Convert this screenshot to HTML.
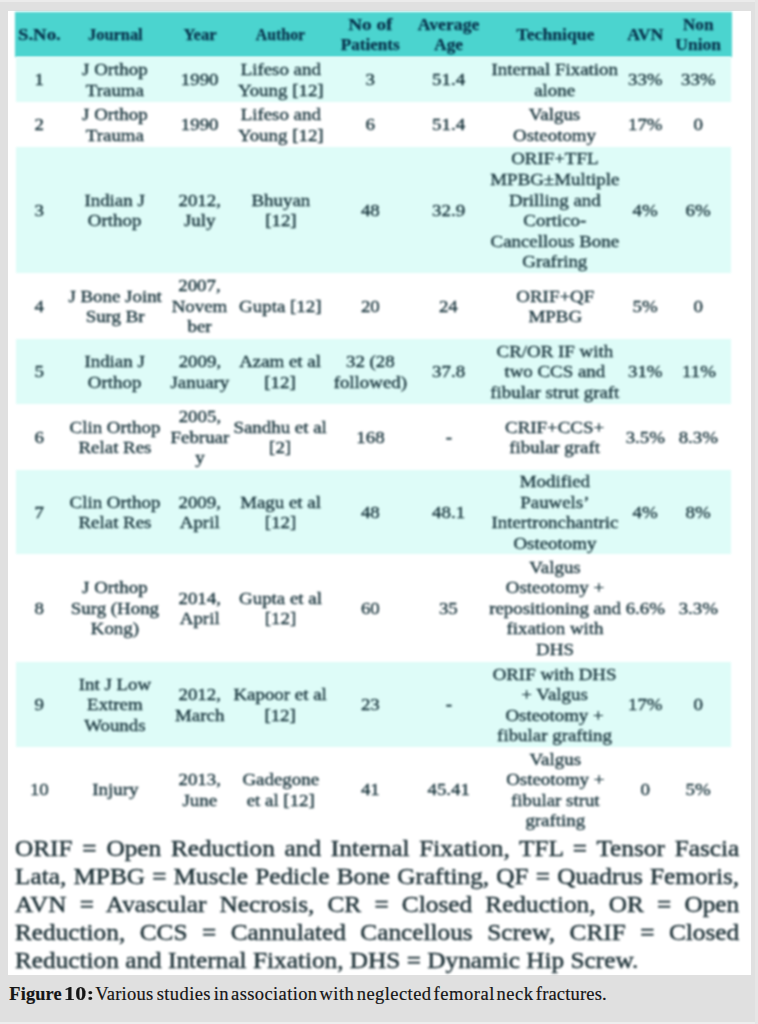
<!DOCTYPE html>
<html><head><meta charset="utf-8"><title>Figure 10</title>
<style>
html,body{margin:0;padding:0}
body{width:758px;height:1024px;overflow:hidden;background:#e0e0e0;position:relative;font-family:"Liberation Serif","Times New Roman",serif}
#edge-t{position:absolute;left:0;top:0;width:758px;height:2px;background:#ebebeb}
#edge-b{position:absolute;left:0;top:1022px;width:758px;height:2px;background:#eeeeee}
#edge-r{position:absolute;left:755px;top:0;width:3px;height:1024px;background:#e6e6e6}
#sheet{position:absolute;left:8px;top:11px;width:742.5px;height:964px;background:#fff}
#tbl{position:absolute;left:0;top:0;width:758px;height:980px}
.band{filter:blur(0.9px)}
.c{filter:blur(0.8px)}
.c.h{filter:blur(1.0px)}
#note{filter:blur(0.8px)}
.band{position:absolute;left:15.2px;width:716.4px}
.hd{background:#4bd4cf}
.lt{background:#defcf8;left:16.2px;width:714.5px}
.c{-webkit-text-stroke:0.35px #17333b;position:absolute;width:200px;display:flex;align-items:center;justify-content:center;text-align:center;white-space:nowrap;color:#17333b;font-size:16.65px;line-height:20.6px}
.c span{display:inline-block;transform:scaleX(1.135)}
.h span.hl{display:block}
.h{-webkit-text-stroke:0.25px #06304a;color:#06304a;font-weight:bold;font-size:17.0px;line-height:19.7px}
#note{position:absolute;left:15.1px;top:833.7px;width:667.47px;transform-origin:0 0;transform:scaleX(1.085);font-size:23.3px;line-height:28.0px;color:#1b2f35;-webkit-text-stroke:0.45px #1b2f35;text-align:justify;margin:0}
#cap{position:absolute;left:0;top:980.70px;width:758px;height:26px;margin:0;color:#151515;-webkit-text-stroke:0.2px #151515}
#cap span,#cap b{position:absolute;top:0;line-height:26px;white-space:nowrap}
#cap span{font-size:18.5px;top:0px}
#cap b{font-size:18.3px;transform-origin:0 50%;top:0px}
</style></head><body>
<div id="edge-t"></div><div id="edge-b"></div><div id="edge-r"></div>
<div id="sheet"></div>
<div id="tbl">
<div class="band hd" style="top:11.6px;height:45.6px"></div>
<div class="band lt" style="top:57px;height:45px"></div>
<div class="band lt" style="top:147px;height:126px"></div>
<div class="band lt" style="top:339px;height:65px"></div>
<div class="band lt" style="top:470px;height:84px"></div>
<div class="band lt" style="top:662px;height:85px"></div>
<div class="c h" style="left:-60.5px;top:12.4px;height:45px"><div><span class="hl" style="transform:scaleX(1.106)">S.No.</span></div></div>
<div class="c h" style="left:15px;top:12.4px;height:45px"><div><span class="hl" style="transform:scaleX(0.962)">Journal</span></div></div>
<div class="c h" style="left:99.5px;top:12.4px;height:45px"><div><span class="hl" style="transform:scaleX(0.971)">Year</span></div></div>
<div class="c h" style="left:180.5px;top:12.4px;height:45px"><div><span class="hl" style="transform:scaleX(0.933)">Author</span></div></div>
<div class="c h" style="left:270px;top:12.4px;height:45px"><div><span class="hl" style="transform:scaleX(1.128)">No of</span><span class="hl" style="transform:scaleX(1.006)">Patients</span></div></div>
<div class="c h" style="left:348.5px;top:12.4px;height:45px"><div><span class="hl" style="transform:scaleX(1.039)">Average</span><span class="hl" style="transform:scaleX(1.006)">Age</span></div></div>
<div class="c h" style="left:455px;top:12.4px;height:45px"><div><span class="hl" style="transform:scaleX(1.037)">Technique</span></div></div>
<div class="c h" style="left:545px;top:12.4px;height:45px"><div><span class="hl" style="transform:scaleX(1.044)">AVN</span></div></div>
<div class="c h" style="left:598.5px;top:12.4px;height:45px"><div><span class="hl" style="transform:scaleX(1.006)">Non</span><span class="hl" style="transform:scaleX(1.029)">Union</span></div></div>
<div class="c" style="left:-60.5px;top:58.2px;height:45px"><span>1</span></div>
<div class="c" style="left:15px;top:58.2px;height:45px"><span>J Orthop<br>Trauma</span></div>
<div class="c" style="left:99.5px;top:58.2px;height:45px"><span>1990</span></div>
<div class="c" style="left:180.5px;top:58.2px;height:45px"><span>Lifeso and<br>Young [12]</span></div>
<div class="c" style="left:270px;top:58.2px;height:45px"><span>3</span></div>
<div class="c" style="left:348.5px;top:58.2px;height:45px"><span>51.4</span></div>
<div class="c" style="left:455px;top:58.2px;height:45px"><span>Internal Fixation<br>alone</span></div>
<div class="c" style="left:545px;top:58.2px;height:45px"><span>33%</span></div>
<div class="c" style="left:598.5px;top:58.2px;height:45px"><span>33%</span></div>
<div class="c" style="left:-60.5px;top:103.2px;height:45px"><span>2</span></div>
<div class="c" style="left:15px;top:103.2px;height:45px"><span>J Orthop<br>Trauma</span></div>
<div class="c" style="left:99.5px;top:103.2px;height:45px"><span>1990</span></div>
<div class="c" style="left:180.5px;top:103.2px;height:45px"><span>Lifeso and<br>Young [12]</span></div>
<div class="c" style="left:270px;top:103.2px;height:45px"><span>6</span></div>
<div class="c" style="left:348.5px;top:103.2px;height:45px"><span>51.4</span></div>
<div class="c" style="left:455px;top:103.2px;height:45px"><span>Valgus<br>Osteotomy</span></div>
<div class="c" style="left:545px;top:103.2px;height:45px"><span>17%</span></div>
<div class="c" style="left:598.5px;top:103.2px;height:45px"><span>0</span></div>
<div class="c" style="left:-60.5px;top:148.2px;height:126px"><span>3</span></div>
<div class="c" style="left:15px;top:148.2px;height:126px"><span>Indian J<br>Orthop</span></div>
<div class="c" style="left:99.5px;top:148.2px;height:126px"><span>2012,<br>July</span></div>
<div class="c" style="left:180.5px;top:148.2px;height:126px"><span>Bhuyan<br>[12]</span></div>
<div class="c" style="left:270px;top:148.2px;height:126px"><span>48</span></div>
<div class="c" style="left:348.5px;top:148.2px;height:126px"><span>32.9</span></div>
<div class="c" style="left:455px;top:148.2px;height:126px"><span>ORIF+TFL<br>MPBG±Multiple<br>Drilling and<br>Cortico-<br>Cancellous Bone<br>Grafring</span></div>
<div class="c" style="left:545px;top:148.2px;height:126px"><span>4%</span></div>
<div class="c" style="left:598.5px;top:148.2px;height:126px"><span>6%</span></div>
<div class="c" style="left:-60.5px;top:274.2px;height:66px"><span>4</span></div>
<div class="c" style="left:15px;top:274.2px;height:66px"><span>J Bone Joint<br>Surg Br</span></div>
<div class="c" style="left:99.5px;top:274.2px;height:66px"><span>2007,<br>Novem<br>ber</span></div>
<div class="c" style="left:180.5px;top:274.2px;height:66px"><span>Gupta [12]</span></div>
<div class="c" style="left:270px;top:274.2px;height:66px"><span>20</span></div>
<div class="c" style="left:348.5px;top:274.2px;height:66px"><span>24</span></div>
<div class="c" style="left:455px;top:274.2px;height:66px"><span>ORIF+QF<br>MPBG</span></div>
<div class="c" style="left:545px;top:274.2px;height:66px"><span>5%</span></div>
<div class="c" style="left:598.5px;top:274.2px;height:66px"><span>0</span></div>
<div class="c" style="left:-60.5px;top:340.2px;height:65px"><span>5</span></div>
<div class="c" style="left:15px;top:340.2px;height:65px"><span>Indian J<br>Orthop</span></div>
<div class="c" style="left:99.5px;top:340.2px;height:65px"><span>2009,<br>January</span></div>
<div class="c" style="left:180.5px;top:340.2px;height:65px"><span>Azam et al<br>[12]</span></div>
<div class="c" style="left:270px;top:340.2px;height:65px"><span>32 (28<br>followed)</span></div>
<div class="c" style="left:348.5px;top:340.2px;height:65px"><span>37.8</span></div>
<div class="c" style="left:455px;top:340.2px;height:65px"><span>CR/OR IF with<br>two CCS and<br>fibular strut graft</span></div>
<div class="c" style="left:545px;top:340.2px;height:65px"><span>31%</span></div>
<div class="c" style="left:598.5px;top:340.2px;height:65px"><span>11%</span></div>
<div class="c" style="left:-60.5px;top:405.2px;height:66px"><span>6</span></div>
<div class="c" style="left:15px;top:405.2px;height:66px"><span>Clin Orthop<br>Relat Res</span></div>
<div class="c" style="left:99.5px;top:405.2px;height:66px"><span>2005,<br>Februar<br>y</span></div>
<div class="c" style="left:180.5px;top:405.2px;height:66px"><span>Sandhu et al<br>[2]</span></div>
<div class="c" style="left:270px;top:405.2px;height:66px"><span>168</span></div>
<div class="c" style="left:348.5px;top:405.2px;height:66px"><span>-</span></div>
<div class="c" style="left:455px;top:405.2px;height:66px"><span>CRIF+CCS+<br>fibular graft</span></div>
<div class="c" style="left:545px;top:405.2px;height:66px"><span>3.5%</span></div>
<div class="c" style="left:598.5px;top:405.2px;height:66px"><span>8.3%</span></div>
<div class="c" style="left:-60.5px;top:471.2px;height:84px"><span>7</span></div>
<div class="c" style="left:15px;top:471.2px;height:84px"><span>Clin Orthop<br>Relat Res</span></div>
<div class="c" style="left:99.5px;top:471.2px;height:84px"><span>2009,<br>April</span></div>
<div class="c" style="left:180.5px;top:471.2px;height:84px"><span>Magu et al<br>[12]</span></div>
<div class="c" style="left:270px;top:471.2px;height:84px"><span>48</span></div>
<div class="c" style="left:348.5px;top:471.2px;height:84px"><span>48.1</span></div>
<div class="c" style="left:455px;top:471.2px;height:84px"><span>Modified<br>Pauwels’<br>Intertronchantric<br>Osteotomy</span></div>
<div class="c" style="left:545px;top:471.2px;height:84px"><span>4%</span></div>
<div class="c" style="left:598.5px;top:471.2px;height:84px"><span>8%</span></div>
<div class="c" style="left:-60.5px;top:555.2px;height:108px"><span>8</span></div>
<div class="c" style="left:15px;top:555.2px;height:108px"><span>J Orthop<br>Surg (Hong<br>Kong)</span></div>
<div class="c" style="left:99.5px;top:555.2px;height:108px"><span>2014,<br>April</span></div>
<div class="c" style="left:180.5px;top:555.2px;height:108px"><span>Gupta et al<br>[12]</span></div>
<div class="c" style="left:270px;top:555.2px;height:108px"><span>60</span></div>
<div class="c" style="left:348.5px;top:555.2px;height:108px"><span>35</span></div>
<div class="c" style="left:455px;top:555.2px;height:108px"><span>Valgus<br>Osteotomy +<br>repositioning and<br>fixation with<br>DHS</span></div>
<div class="c" style="left:545px;top:555.2px;height:108px"><span>6.6%</span></div>
<div class="c" style="left:598.5px;top:555.2px;height:108px"><span>3.3%</span></div>
<div class="c" style="left:-60.5px;top:663.2px;height:85px"><span>9</span></div>
<div class="c" style="left:15px;top:663.2px;height:85px"><span>Int J Low<br>Extrem<br>Wounds</span></div>
<div class="c" style="left:99.5px;top:663.2px;height:85px"><span>2012,<br>March</span></div>
<div class="c" style="left:180.5px;top:663.2px;height:85px"><span>Kapoor et al<br>[12]</span></div>
<div class="c" style="left:270px;top:663.2px;height:85px"><span>23</span></div>
<div class="c" style="left:348.5px;top:663.2px;height:85px"><span>-</span></div>
<div class="c" style="left:455px;top:663.2px;height:85px"><span>ORIF with DHS<br>+ Valgus<br>Osteotomy +<br>fibular grafting</span></div>
<div class="c" style="left:545px;top:663.2px;height:85px"><span>17%</span></div>
<div class="c" style="left:598.5px;top:663.2px;height:85px"><span>0</span></div>
<div class="c" style="left:-60.5px;top:748.2px;height:85px"><span>10</span></div>
<div class="c" style="left:15px;top:748.2px;height:85px"><span>Injury</span></div>
<div class="c" style="left:99.5px;top:748.2px;height:85px"><span>2013,<br>June</span></div>
<div class="c" style="left:180.5px;top:748.2px;height:85px"><span>Gadegone<br>et al [12]</span></div>
<div class="c" style="left:270px;top:748.2px;height:85px"><span>41</span></div>
<div class="c" style="left:348.5px;top:748.2px;height:85px"><span>45.41</span></div>
<div class="c" style="left:455px;top:748.2px;height:85px"><span>Valgus<br>Osteotomy +<br>fibular strut<br>grafting</span></div>
<div class="c" style="left:545px;top:748.2px;height:85px"><span>0</span></div>
<div class="c" style="left:598.5px;top:748.2px;height:85px"><span>5%</span></div>
<p id="note">ORIF = Open Reduction and Internal Fixation, TFL = Tensor Fascia Lata, MPBG = Muscle Pedicle Bone Grafting, QF = Quadrus Femoris, AVN = Avascular Necrosis, CR = Closed Reduction, OR = Open Reduction, CCS = Cannulated Cancellous Screw, CRIF = Closed Reduction and Internal Fixation, DHS = Dynamic Hip Screw.</p>
</div>
<p id="cap"><b style="left:9.3px;letter-spacing:0.18px">Figure</b> <b style="left:64.2px;letter-spacing:0.3px;transform:scaleX(1.2)">10:</b> <span style="left:95.2px;letter-spacing:0.24px">Various</span> <span style="left:156.7px;letter-spacing:0.4px">studies</span> <span style="left:213.7px;letter-spacing:0.5px">in</span> <span style="left:231.1px;letter-spacing:0.38px">association</span> <span style="left:319.5px;letter-spacing:0.47px">with</span> <span style="left:356.8px;letter-spacing:0.42px">neglected</span> <span style="left:433.5px;letter-spacing:0.55px">femoral</span> <span style="left:496.6px;letter-spacing:0.5px">neck</span> <span style="left:535.8px;letter-spacing:0.17px">fractures.</span> </p>
</body></html>
